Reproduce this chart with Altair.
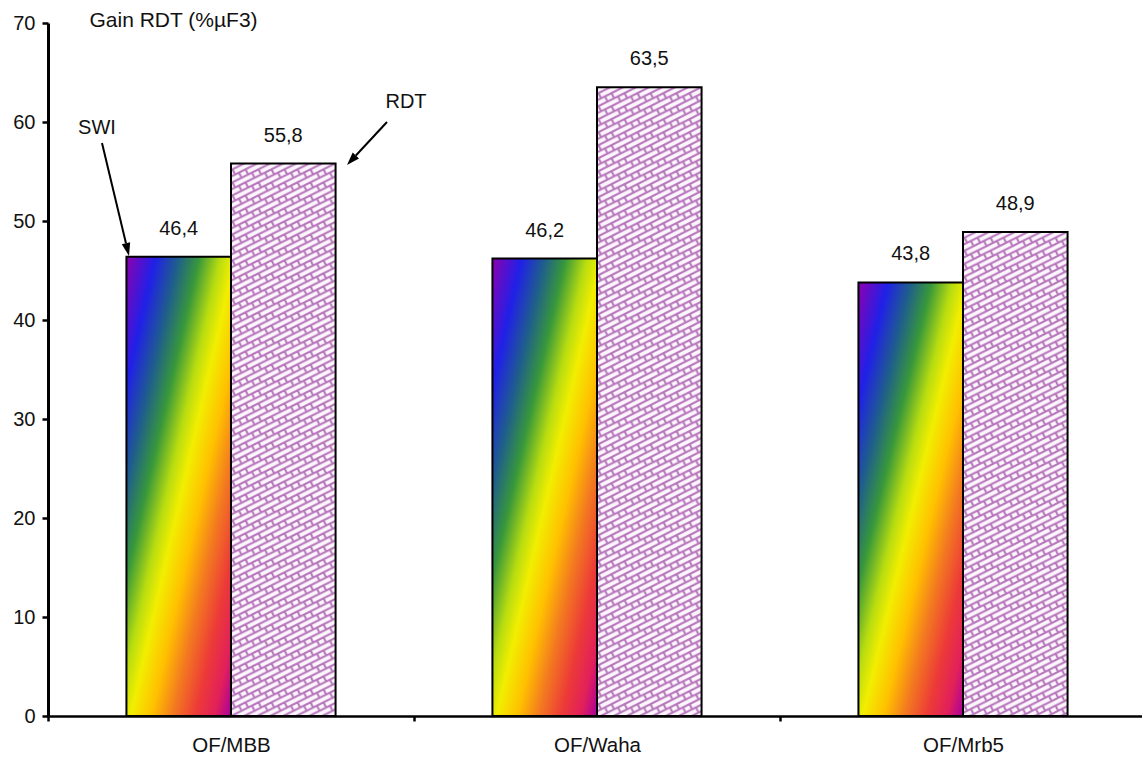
import math
import urllib.parse

import altair as alt
import pandas as pd

# ---- data -------------------------------------------------------------
categories = ["OF/MBB", "OF/Waha", "OF/Mrb5"]
series = ["SWI", "RDT"]
swi_values = [46.4, 46.2, 43.8]
rdt_values = [55.8, 63.5, 48.9]
y_ticks = [0, 10, 20, 30, 40, 50, 60, 70]

rows = []
for cat, s_val, r_val in zip(categories, swi_values, rdt_values):
    rows.append({"cat": cat, "series": "SWI", "value": s_val})
    rows.append({"cat": cat, "series": "RDT", "value": r_val})
df = pd.DataFrame(rows)
df["label"] = df["value"].map(lambda v: f"{v:.1f}".replace(".", ","))

FONT = "Liberation Sans"
INK = "#111111"

# ---- fills ------------------------------------------------------------
rainbow = alt.Gradient(
    gradient="linear",
    x1=0, y1=0, x2=1, y2=1,
    stops=[
        alt.GradientStop(offset=0.00, color="#8E00B0"),
        alt.GradientStop(offset=0.14, color="#2020E8"),
        alt.GradientStop(offset=0.25, color="#1F5E8C"),
        alt.GradientStop(offset=0.35, color="#38983A"),
        alt.GradientStop(offset=0.45, color="#B8DC10"),
        alt.GradientStop(offset=0.52, color="#F2EE00"),
        alt.GradientStop(offset=0.62, color="#FFC000"),
        alt.GradientStop(offset=0.72, color="#F37A20"),
        alt.GradientStop(offset=0.83, color="#EC3A38"),
        alt.GradientStop(offset=0.92, color="#E2205A"),
        alt.GradientStop(offset=1.00, color="#A8009E"),
    ],
)

# diagonal brick weave tile, used as a stretched image over the RDT bars
brick_svg = (
    '<svg xmlns="http://www.w3.org/2000/svg" width="100%" height="100%">'
    '<defs><pattern id="brick" width="13" height="13" patternUnits="userSpaceOnUse">'
    '<rect width="13" height="13" fill="#FDF5FD"/>'
    '<path d="M-2,1L15,-7.5M-2,7.5L15,-1M-2,14L15,5.5M-2,20.5L15,12'
    'M1.5,5.75L4.1,10.95M8,9L10.6,14.2M8,-4L10.6,1.2" '
    'stroke="#A458AA" stroke-width="2.0" stroke-opacity="0.8" '
    'stroke-linecap="round" fill="none"/>'
    '</pattern></defs>'
    '<rect width="100%" height="100%" fill="url(#brick)"/></svg>'
)
brick_url = "data:image/svg+xml;charset=utf-8," + urllib.parse.quote(brick_svg)

# ---- shared encodings -------------------------------------------------
x_enc = alt.X(
    "cat:N",
    sort=categories,
    scale=alt.Scale(paddingInner=0, paddingOuter=0, range=[0, 1098]),
    axis=alt.Axis(
        title=None,
        tickBand="extent",
        tickSize=5,
        tickWidth=2.5,
        tickColor="black",
        domainColor="black",
        domainWidth=2.5,
        labelFont=FONT,
        labelFontSize=20.5,
        labelColor=INK,
        labelPadding=14,
        labelAngle=0,
        grid=False,
    ),
)
xo_enc = alt.XOffset(
    "series:N", sort=series, scale=alt.Scale(paddingInner=0, paddingOuter=0.75)
)
y_enc = alt.Y(
    "value:Q",
    scale=alt.Scale(domain=[0, 70], nice=False),
    axis=alt.Axis(
        title="Gain RDT (%µF3)",
        titleAngle=0,
        titleX=41,
        titleY=3,
        titleAlign="left",
        titleBaseline="alphabetic",
        titleFont=FONT,
        titleFontSize=21,
        titleFontWeight="normal",
        titleColor=INK,
        values=y_ticks,
        tickSize=6,
        tickWidth=2.5,
        tickColor="black",
        domainColor="black",
        domainWidth=3,
        labelFont=FONT,
        labelFontSize=20,
        labelColor=INK,
        labelPadding=7,
        grid=False,
    ),
)

base = alt.Chart(df)

swi_bars = base.transform_filter(alt.datum.series == "SWI").mark_bar(
    fill=rainbow, stroke="black", strokeWidth=2
).encode(x=x_enc, xOffset=xo_enc, y=y_enc)

rdt_base = base.transform_filter(alt.datum.series == "RDT").mark_bar(
    fill="white", strokeWidth=0
).encode(x=x_enc, xOffset=xo_enc, y=y_enc)

rdt_pattern = base.transform_filter(alt.datum.series == "RDT").mark_image(
    aspect=False
).encode(
    x=x_enc, xOffset=xo_enc, y=y_enc, y2=alt.datum(0), url=alt.value(brick_url)
)

rdt_outline = base.transform_filter(alt.datum.series == "RDT").mark_bar(
    fill="white", fillOpacity=0, stroke="black", strokeWidth=2
).encode(x=x_enc, xOffset=xo_enc, y=y_enc)

value_labels = base.mark_text(
    font=FONT, fontSize=20, color=INK, baseline="alphabetic", dy=-22
).encode(x=x_enc, xOffset=xo_enc, y=y_enc, text="label:N")

# ---- series call-outs (plot-area pixel coordinates) -------------------
HEAD = 13.0


def arrow(name, text_xy, start, tip):
    dx, dy = tip[0] - start[0], tip[1] - start[1]
    length = math.hypot(dx, dy)
    ux, uy = dx / length, dy / length
    base_pt = (tip[0] - ux * HEAD, tip[1] - uy * HEAD)
    # rotation of a downward-pointing head, clockwise degrees
    ang = math.degrees(math.atan2(-dx, dy)) % 360
    src = pd.DataFrame({"name": [name]})
    txt = alt.Chart(src).mark_text(
        font=FONT, fontSize=20, color=INK, baseline="middle", align="center"
    ).encode(x=alt.value(text_xy[0]), y=alt.value(text_xy[1]), text="name:N")
    shaft = alt.Chart(src).mark_rule(color="black", strokeWidth=2).encode(
        x=alt.value(start[0]), y=alt.value(start[1]),
        x2=alt.value(base_pt[0]), y2=alt.value(base_pt[1]),
    )
    head = alt.Chart(src).mark_point(
        shape="M0,0L-0.33,-1L0.33,-1Z",
        size=(2 * HEAD) ** 2,
        filled=True,
        color="black",
        opacity=1,
        angle=ang,
    ).encode(x=alt.value(tip[0]), y=alt.value(tip[1]))
    return [txt, shaft, head]


ann = []
ann += arrow("SWI", (49, 105), (54, 120), (81, 233))
ann += arrow("RDT", (358, 79), (339, 99), (299, 142))

chart = alt.layer(
    swi_bars, rdt_base, rdt_pattern, rdt_outline, value_labels, *ann
).properties(
    width=1094,
    height=693,
    autosize=alt.AutoSizeParams(type="none"),
    padding={"left": 48, "top": 23, "right": 0, "bottom": 46},
    background="white",
).configure_view(stroke=None)

chart.save("out.html", embed_options={"renderer": "svg", "actions": False})
